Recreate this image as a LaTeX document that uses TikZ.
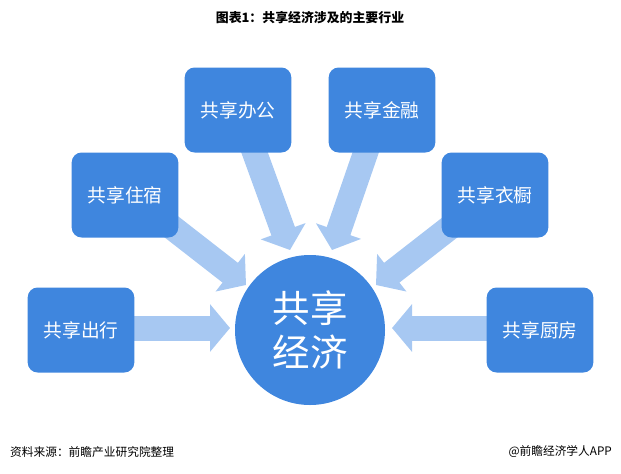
\documentclass[tikz,border=0pt]{standalone}
\usepackage{fontspec}
\setmainfont{Noto Sans CJK SC}
\usetikzlibrary{arrows.meta,positioning}
\definecolor{boxblue}{HTML}{3F86DE}
\definecolor{arrowblue}{HTML}{A7C8F2}

\begin{document}
\begin{tikzpicture}[x=0.03cm,y=-0.03cm,
      sector node/.style={rectangle,rounded corners=3mm,fill=boxblue,text=white,
          font=\fontsize{16}{18}\selectfont,minimum width=3.2cm,minimum height=2.55cm},
      center node/.style={circle,fill=boxblue,text=white,align=center,
          font=\fontsize{32}{38}\selectfont,minimum size=4.5cm,inner sep=0},
      flow/.style={arrowblue,line width=0.75cm,
          -{Triangle[length=0.6cm,width=1.4cm]}}]
    \useasboundingbox (0,0) rectangle (621,473);

    \node[font=\bfseries\fontsize{11}{13}\selectfont] (title) at (310,18) {图表1：共享经济涉及的主要行业};

    % start and end points of the arrows
    \coordinate (s1) at (120,328);
    \coordinate (s2) at (160,218);
    \coordinate (s3) at (250,140);
    \coordinate (s4) at (370,140);
    \coordinate (s5) at (462,218);
    \coordinate (s6) at (500,328);
    \coordinate (e1) at (230,328);
    \coordinate (e2) at (246,285);
    \coordinate (e3) at (290,250);
    \coordinate (e4) at (332,250);
    \coordinate (e5) at (376,285);
    \coordinate (e6) at (392,328);

    \draw[flow] (s1) -- (e1);
    \draw[flow] (s2) -- (e2);
    \draw[flow] (s3) -- (e3);
    \draw[flow] (s4) -- (e4);
    \draw[flow] (s5) -- (e5);
    \draw[flow] (s6) -- (e6);

    \node[center node] (eco) at (310,330) {共享\\经济};

    \node[sector node] (travel) at (81,330) {共享出行};
    \node[sector node] (stay) at (125,195) {共享住宿};
    \node[sector node] (office) at (238,110) {共享办公};
    \node[sector node] (finance) at (382,110) {共享金融};
    \node[sector node] (wardrobe) at (495,195) {共享衣橱};
    \node[sector node] (kitchen) at (540,330) {共享厨房};

    \node[anchor=west,font=\fontsize{10}{12}\selectfont] (source) at (6,452) {资料来源：前瞻产业研究院整理};
    \node[anchor=east,font=\fontsize{10}{12}\selectfont] (brand) at (616,452) {@前瞻经济学人APP};
\end{tikzpicture}
\end{document}
